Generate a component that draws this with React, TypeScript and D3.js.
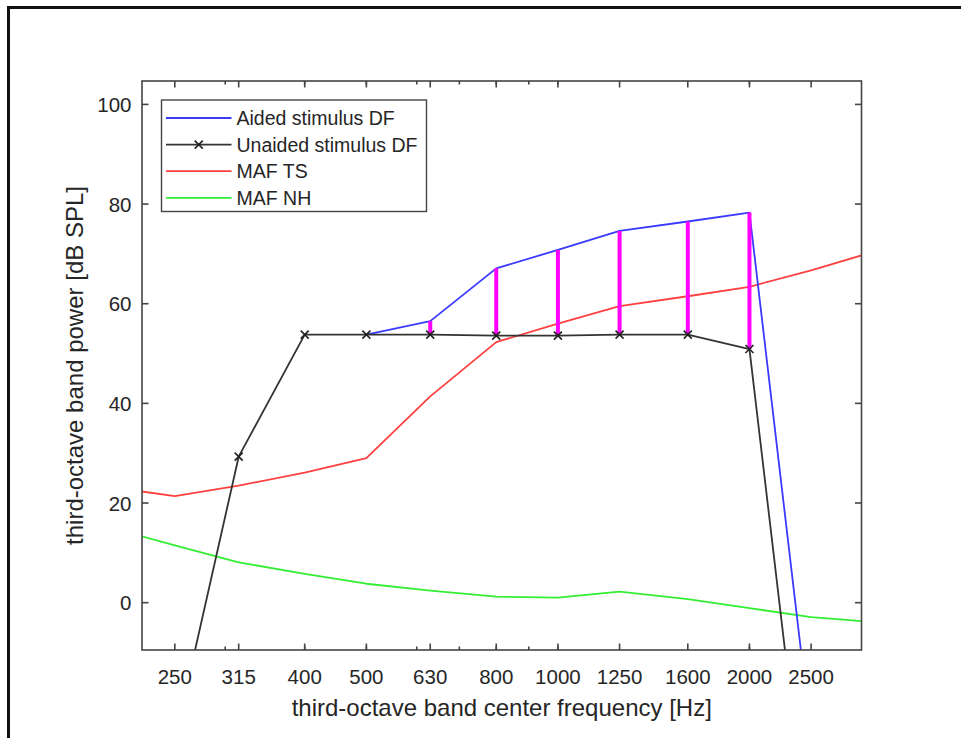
import React from "react";
import * as d3 from "d3";

// third-octave band centre frequencies (Hz)
const freqs = [200, 250, 315, 400, 500, 630, 800, 1000, 1250, 1600, 2000, 2500, 3150];
// band power, dB SPL (null = not plotted)
const aided = [null, null, null, null, 53.8, 56.5, 67.1, 70.8, 74.6, 76.5, 78.3, -27, null];
const unaided = [null, -27.5, 29.3, 53.8, 53.8, 53.8, 53.6, 53.6, 53.8, 53.8, 50.9, -54, null];
const mafTS = [23.1, 21.4, 23.5, 26.1, 29.0, 41.4, 52.3, 56.0, 59.5, 61.5, 63.4, 66.7, 70.5];
const mafNH = [14.9, 11.5, 8.1, 5.8, 3.8, 2.4, 1.2, 1.0, 2.2, 0.7, -1.1, -2.9, -3.9];

// bands where the aided / unaided gap is marked
const gapFreqs = [630, 800, 1000, 1250, 1600, 2000];

const xTicks = [250, 315, 400, 500, 630, 800, 1000, 1250, 1600, 2000, 2500];
const xMinorTicks = [300, 400, 500, 600, 700, 800, 900, 1000, 2000];
const yTicks = [0, 20, 40, 60, 80, 100];

const legendItems = [
  { label: "Aided stimulus DF", color: "#3a3aff", marker: false },
  { label: "Unaided stimulus DF", color: "#333333", marker: true },
  { label: "MAF TS", color: "#ff4040", marker: false },
  { label: "MAF NH", color: "#33ee33", marker: false },
];

const W = 961, H = 738;
const margin = { left: 142, right: 961 - 861.5, top: 81, bottom: 738 - 650 };
const font = "'Liberation Sans', Arial, sans-serif";
const axisColor = "#444";
const textColor = "#262626";

export default function App() {
  const x = d3.scaleLog().domain([222, 3000]).range([margin.left, W - margin.right]);
  const y = d3.scaleLinear().domain([-9.5, 104.7]).range([H - margin.bottom, margin.top]);
  const x0 = x.range()[0], x1 = x.range()[1];
  const y0 = y.range()[0], y1 = y.range()[1];

  const line = d3
    .line<[number, number | null]>()
    .defined((d) => d[1] !== null)
    .x((d) => x(d[0]))
    .y((d) => y(d[1] as number));

  const pairs = (vals: (number | null)[]) => freqs.map((f, i) => [f, vals[i]] as [number, number | null]);

  const markerPts = freqs
    .map((f, i) => ({ f, v: unaided[i] }))
    .filter((d) => d.v !== null && d.v > -9.5 && d.f >= 300);

  return (
    <svg width={W} height={H} style={{ position: "absolute", left: 0, top: 0, background: "#fff" }}>
      {/* outer frame */}
      <line x1={7} x2={W} y1={7.5} y2={7.5} stroke="#111" strokeWidth={3} />
      <line x1={8.5} x2={8.5} y1={6} y2={H} stroke="#111" strokeWidth={3} />

      <defs>
        <clipPath id="plot">
          <rect x={x0} y={y1} width={x1 - x0} height={y0 - y1} />
        </clipPath>
      </defs>

      <g clipPath="url(#plot)" fill="none" strokeLinejoin="round">
        <path d={line(pairs(mafTS)) || ""} stroke="#ff4040" strokeWidth={1.8} />
        <path d={line(pairs(mafNH)) || ""} stroke="#33ee33" strokeWidth={1.8} />
        <path d={line(pairs(aided)) || ""} stroke="#3a3aff" strokeWidth={1.8} />
        {gapFreqs.map((f) => {
          const i = freqs.indexOf(f);
          return (
            <line
              key={f}
              x1={x(f)}
              x2={x(f)}
              y1={y(unaided[i] as number)}
              y2={y(aided[i] as number)}
              stroke="#ff00ff"
              strokeWidth={4}
            />
          );
        })}
        <path d={line(pairs(unaided)) || ""} stroke="#333333" strokeWidth={1.8} />
        {markerPts.map((d) => {
          const cx = x(d.f), cy = y(d.v as number), r = 4;
          return (
            <path
              key={d.f}
              d={`M${cx - r},${cy - r}L${cx + r},${cy + r}M${cx - r},${cy + r}L${cx + r},${cy - r}`}
              stroke="#222"
              strokeWidth={1.6}
            />
          );
        })}
      </g>

      {/* axes box and ticks */}
      <g stroke={axisColor} strokeWidth={1.6} fill="none">
        <rect x={x0} y={y1} width={x1 - x0} height={y0 - y1} />
        {xTicks.map((t) => (
          <g key={"xt" + t}>
            <line x1={x(t)} x2={x(t)} y1={y0} y2={y0 - 6.5} />
            <line x1={x(t)} x2={x(t)} y1={y1} y2={y1 + 6.5} />
          </g>
        ))}
        {xMinorTicks.map((t) => (
          <g key={"xm" + t}>
            <line x1={x(t)} x2={x(t)} y1={y0} y2={y0 - 3.5} />
            <line x1={x(t)} x2={x(t)} y1={y1} y2={y1 + 3.5} />
          </g>
        ))}
        {yTicks.map((t) => (
          <g key={"yt" + t}>
            <line x1={x0} x2={x0 + 6.5} y1={y(t)} y2={y(t)} />
            <line x1={x1} x2={x1 - 6.5} y1={y(t)} y2={y(t)} />
          </g>
        ))}
      </g>

      {/* tick labels */}
      <g fontFamily={font} fontSize={20.5} fill={textColor}>
        {xTicks.map((t) => (
          <text key={"xl" + t} x={x(t)} y={684} textAnchor="middle">
            {t}
          </text>
        ))}
        {yTicks.map((t) => (
          <text key={"yl" + t} x={x0 - 10.5} y={y(t)} textAnchor="end" dominantBaseline="central">
            {t}
          </text>
        ))}
      </g>

      {/* axis titles */}
      <text
        x={(x0 + x1) / 2}
        y={716}
        textAnchor="middle"
        fontFamily={font}
        fontSize={24}
        fill={textColor}
      >
        third-octave band center frequency [Hz]
      </text>
      <text
        transform={`translate(83,${(y0 + y1) / 2}) rotate(-90)`}
        textAnchor="middle"
        fontFamily={font}
        fontSize={24}
        fill={textColor}
      >
        third-octave band power [dB SPL]
      </text>

      {/* legend */}
      <g>
        <rect x={161.5} y={100} width={265} height={111.5} fill="#fff" stroke={axisColor} strokeWidth={1.4} />
        {legendItems.map((it, i) => {
          const ly = 118 + i * 26.6;
          return (
            <g key={it.label}>
              <line x1={166} x2={231.5} y1={ly} y2={ly} stroke={it.color} strokeWidth={1.8} />
              {it.marker && (
                <path
                  d={`M${198.75 - 4},${ly - 4}L${198.75 + 4},${ly + 4}M${198.75 - 4},${ly + 4}L${198.75 + 4},${ly - 4}`}
                  stroke="#222"
                  strokeWidth={1.6}
                />
              )}
              <text
                x={236.5}
                y={ly}
                dominantBaseline="central"
                fontFamily={font}
                fontSize={19.5}
                fill={textColor}
              >
                {it.label}
              </text>
            </g>
          );
        })}
      </g>
    </svg>
  );
}
